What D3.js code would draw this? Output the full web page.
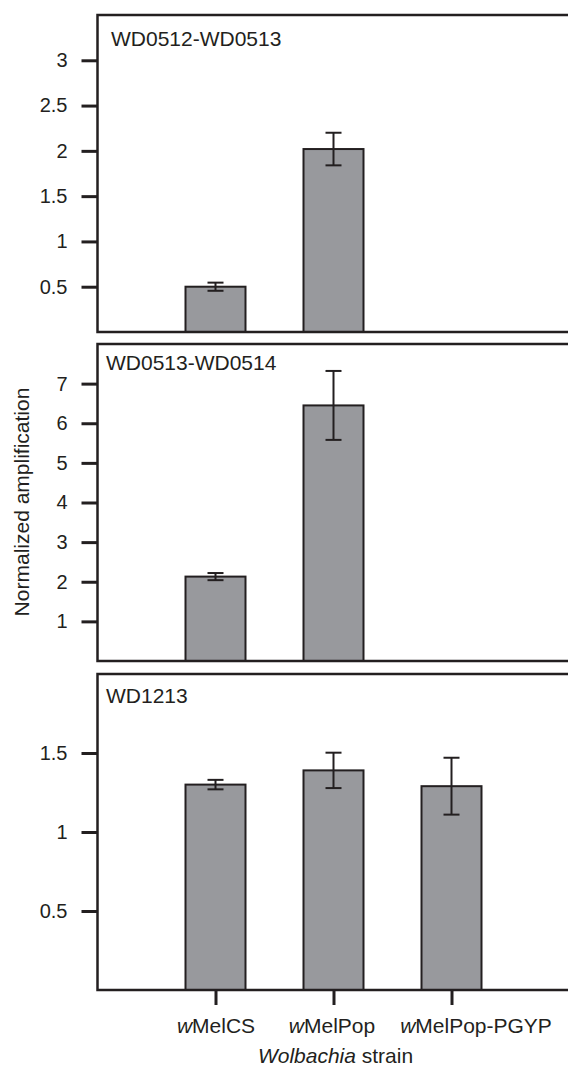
<!DOCTYPE html>
<html>
<head>
<meta charset="utf-8">
<script src="https://cdn.jsdelivr.net/npm/d3@7"></script>
<style>
  body { margin: 0; background: #fff; }
  svg { display: block; font-family: "Liberation Sans", Arial, sans-serif; }
</style>
</head>
<body>
<div class="chart"></div>
<script>
// data
const strains = ["wMelCS", "wMelPop", "wMelPop-PGYP"];
const panelNames = ["WD0512-WD0513", "WD0513-WD0514", "WD1213"];

const meanTop = [0.50, 2.02, 0];
const errTop = [0.045, 0.18, 0];
const meanMid = [2.13, 6.45, 0];
const errMid = [0.09, 0.87, 0];
const meanBot = [1.30, 1.39, 1.29];
const errBot = [0.03, 0.112, 0.18];

const ticksTop = [0.5, 1, 1.5, 2, 2.5, 3];
const ticksMid = [1, 2, 3, 4, 5, 6, 7];
const ticksBot = [0.5, 1, 1.5];
const yMax = [3.5, 8, 2];

const width = 568, height = 1066;
const left = 97.5, right = 569.5;
const ink = "#231f20";
const barFill = "#98999d";

// panel layout (pixel positions only)
const layout = [
    {top: 15, bottom: 332, labelX: 111, labelY: 46},
    {top: 344, bottom: 661, labelX: 106, labelY: 370},
    {top: 674, bottom: 990, labelX: 106, labelY: 703}
];
// the last strain label sits a little right of its tick in the original
const labelShift = [0, -2, 24];

const panels = [
    {name: panelNames[0], means: meanTop, errs: errTop, ticks: ticksTop, max: yMax[0]},
    {name: panelNames[1], means: meanMid, errs: errMid, ticks: ticksMid, max: yMax[1]},
    {name: panelNames[2], means: meanBot, errs: errBot, ticks: ticksBot, max: yMax[2]}
];

const svg = d3.select(".chart")
    .append("svg")
    .attr("width", width)
    .attr("height", height);

const x = d3.scalePoint()
    .domain(strains)
    .range([left, right])
    .padding(1);

const barWidth = 60;

panels.forEach((p, i) => {
    const L = layout[i];
    const y = d3.scaleLinear()
        .domain([0, p.max])
        .range([L.bottom, L.top]);

    const g = svg.append("g");

    const rows = strains.map((s, j) => ({strain: s, mean: p.means[j], err: p.errs[j]}));

    // bars
    g.selectAll("rect")
        .data(rows)
        .join("rect")
        .attr("x", d => x(d.strain) - barWidth / 2)
        .attr("width", barWidth)
        .attr("y", d => y(d.mean))
        .attr("height", d => y(0) - y(d.mean))
        .attr("fill", barFill)
        .attr("stroke", ink)
        .attr("stroke-width", 2);

    // error bars
    const eb = g.selectAll("g.err")
        .data(rows.filter(d => d.err > 0))
        .join("g")
        .attr("class", "err")
        .attr("stroke", ink)
        .attr("stroke-width", 2);
    eb.append("line")
        .attr("x1", d => x(d.strain)).attr("x2", d => x(d.strain))
        .attr("y1", d => y(d.mean + d.err)).attr("y2", d => y(d.mean - d.err));
    eb.append("line")
        .attr("x1", d => x(d.strain) - 8).attr("x2", d => x(d.strain) + 8)
        .attr("y1", d => y(d.mean + d.err)).attr("y2", d => y(d.mean + d.err));
    eb.append("line")
        .attr("x1", d => x(d.strain) - 8).attr("x2", d => x(d.strain) + 8)
        .attr("y1", d => y(d.mean - d.err)).attr("y2", d => y(d.mean - d.err));

    // frame (right side falls just off the picture)
    g.append("path")
        .attr("fill", "none")
        .attr("stroke", ink)
        .attr("stroke-width", 2.5)
        .attr("d", `M${right + 4},${L.top}H${left}V${L.bottom}H${right + 4}`);

    // y axis
    const ya = g.append("g")
        .attr("transform", `translate(${left},0)`)
        .call(d3.axisLeft(y).tickValues(p.ticks).tickFormat(d => d).tickSize(16).tickPadding(14));
    ya.select(".domain").remove();
    ya.selectAll(".tick line").attr("stroke", ink).attr("stroke-width", 3);
    ya.selectAll(".tick text")
        .attr("fill", ink)
        .attr("font-size", 20)
        .attr("font-family", "Liberation Sans, Arial, sans-serif");

    g.append("text")
        .attr("x", L.labelX)
        .attr("y", L.labelY)
        .attr("font-size", 21)
        .attr("fill", ink)
        .text(p.name);

    if (i === panels.length - 1) {
        const xa = g.append("g")
            .attr("transform", `translate(0,${L.bottom})`)
            .call(d3.axisBottom(x).tickSize(15).tickPadding(13));
        xa.select(".domain").remove();
        xa.selectAll(".tick line").attr("stroke", ink).attr("stroke-width", 3);
        xa.selectAll(".tick text").each(function(d, j) {
            const t = d3.select(this)
                .text(null)
                .attr("x", labelShift[j])
                .attr("fill", ink)
                .attr("font-size", 21)
                .attr("font-family", "Liberation Sans, Arial, sans-serif");
            t.append("tspan").attr("font-style", "italic").text(d.charAt(0));
            t.append("tspan").text(d.slice(1));
        });
    }
});

// axis titles
svg.append("text")
    .attr("transform", "translate(29,502) rotate(-90)")
    .attr("text-anchor", "middle")
    .attr("font-size", 21)
    .attr("fill", ink)
    .text("Normalized amplification");

const xt = svg.append("text")
    .attr("x", 335.5)
    .attr("y", 1063)
    .attr("text-anchor", "middle")
    .attr("font-size", 21)
    .attr("fill", ink);
xt.append("tspan").attr("font-style", "italic").text("Wolbachia");
xt.append("tspan").text(" strain");
</script>
</body>
</html>
